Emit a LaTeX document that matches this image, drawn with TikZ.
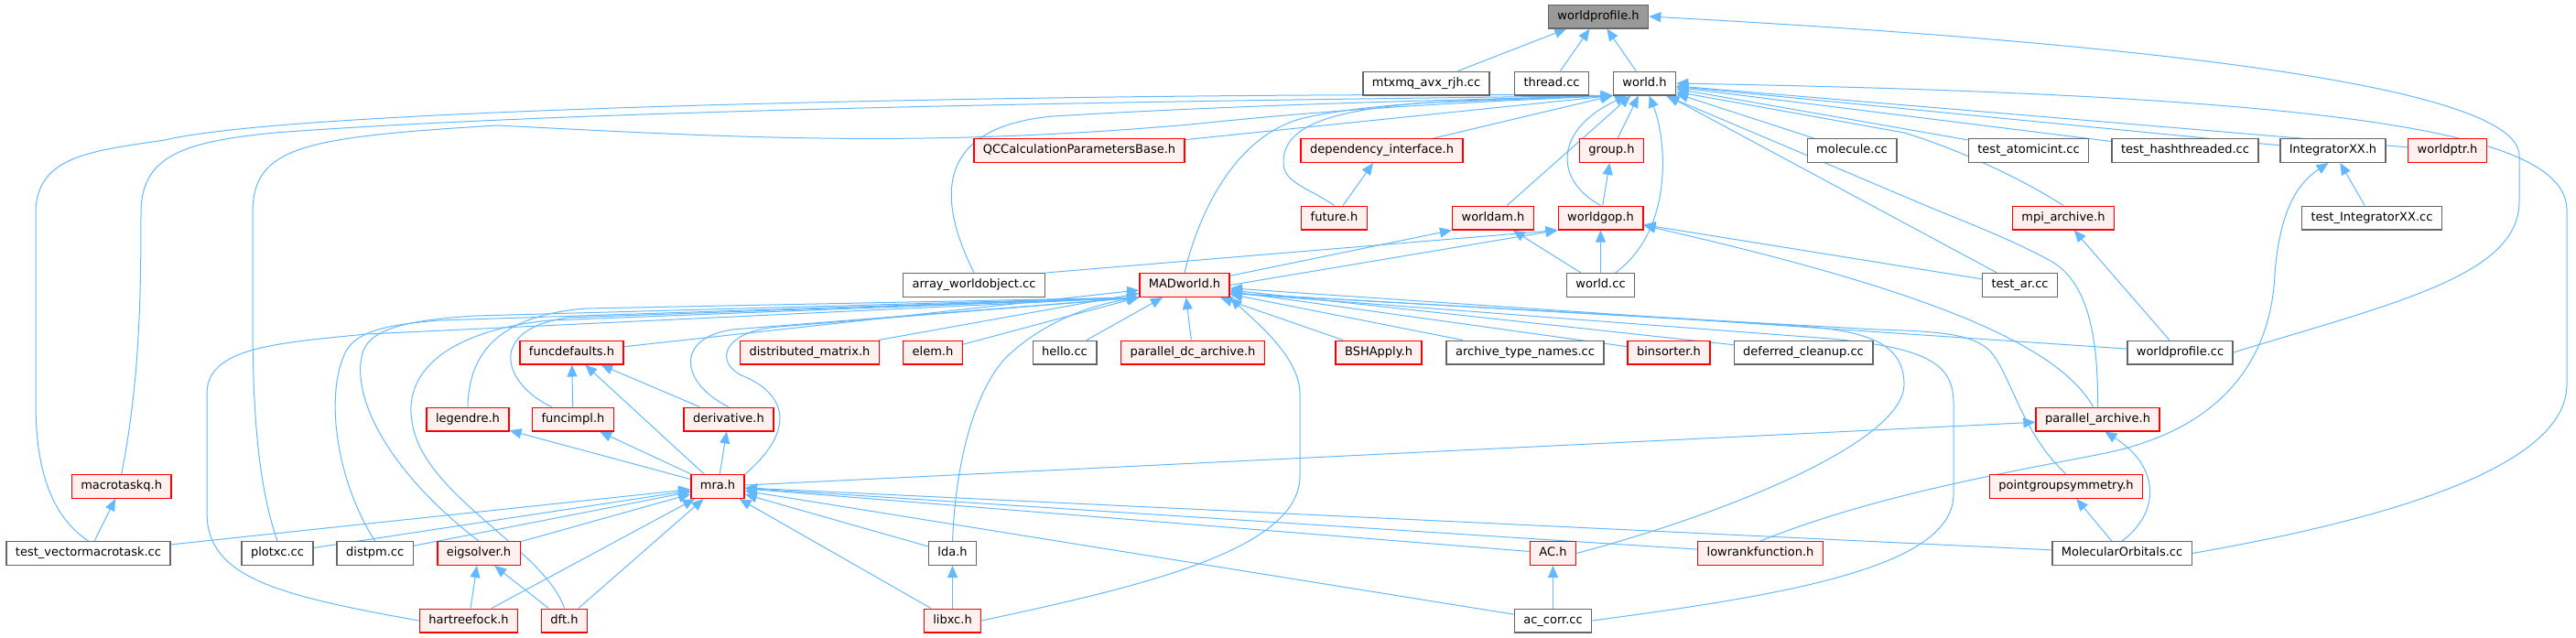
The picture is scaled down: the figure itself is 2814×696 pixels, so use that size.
\documentclass[tikz,border=0pt]{standalone}
\usepackage{fontspec}
\setmainfont{DejaVu Sans}
\usetikzlibrary{arrows.meta}
\definecolor{DGEdge}{HTML}{63B8FF}
\definecolor{DGBorder}{HTML}{666666}
\definecolor{DGRed}{HTML}{FF0000}
\definecolor{DGPink}{HTML}{FFF0F0}
\definecolor{DGGray}{HTML}{999999}
\pgfdeclarelayer{background}
\pgfsetlayers{background,main}

\begin{document}
\begin{tikzpicture}[x=0.5pt,y=-0.5pt,>={Triangle[length=6.5pt,width=5.5pt]},
    file/.style={draw=DGBorder,fill=white,line width=0.7pt,minimum height=12.8pt,inner xsep=5pt,inner ysep=0pt,
      text height=4.9pt,text depth=1.5pt,font=\fontsize{6.5pt}{7pt}\selectfont},
    trunc/.style={file,draw=DGRed,fill=DGPink},
    focus/.style={file,fill=DGGray},
    edge/.style={->,DGEdge,line width=0.5pt}]
  \useasboundingbox (0,0) rectangle (2814,696);

  % rank 0 - 4
  \node[focus] (wprofh) at (1746,18) {worldprofile.h};
  \node[file] (mtxmq) at (1558,91) {mtxmq\_avx\_rjh.cc};
  \node[file] (thread) at (1695,91) {thread.cc};
  \node[file] (worldh) at (1796.5,91) {world.h};
  \node[trunc] (qccalc) at (1179,164.5) {QCCalculationParametersBase.h};
  \node[trunc] (depint) at (1509.5,164.5) {dependency\_interface.h};
  \node[trunc] (group) at (1760.5,164.5) {group.h};
  \node[file] (molecule) at (2023,164.5) {molecule.cc};
  \node[file] (atomicint) at (2216,164.5) {test\_atomicint.cc};
  \node[file] (hashthr) at (2387,164.5) {test\_hashthreaded.cc};
  \node[file] (integxx) at (2548.5,164.5) {IntegratorXX.h};
  \node[trunc] (worldptr) at (2673.5,164.5) {worldptr.h};
  \node[trunc] (future) at (1457.5,238) {future.h};
  \node[trunc] (worldam) at (1631,238) {worldam.h};
  \node[trunc] (worldgop) at (1748.5,238) {worldgop.h};
  \node[trunc] (mpiarch) at (2254,238) {mpi\_archive.h};
  \node[file] (testintxx) at (2591,238) {test\_IntegratorXX.cc};
  \node[file] (arrayobj) at (1064,311.5) {array\_worldobject.cc};
  \node[trunc] (madworld) at (1294,311.5) {MADworld.h};
  \node[file] (worldcc) at (1748.5,311.5) {world.cc};
  \node[file] (testar) at (2206.5,311.5) {test\_ar.cc};

  % rank 5 - 9
  \node[trunc] (funcdef) at (624.5,385) {funcdefaults.h};
  \node[trunc] (distmat) at (884.5,385) {distributed\_matrix.h};
  \node[trunc] (elem) at (1019,385) {elem.h};
  \node[file] (hello) at (1163,385) {hello.cc};
  \node[trunc] (pardc) at (1303,385) {parallel\_dc\_archive.h};
  \node[trunc] (bshapply) at (1506,385) {BSHApply.h};
  \node[file] (archnames) at (1666,385) {archive\_type\_names.cc};
  \node[trunc] (binsorter) at (1823,385) {binsorter.h};
  \node[file] (defclean) at (1970,385) {deferred\_cleanup.cc};
  \node[file] (wprofcc) at (2381.5,385) {worldprofile.cc};
  \node[trunc] (legendre) at (511,458) {legendre.h};
  \node[trunc] (funcimpl) at (626,458) {funcimpl.h};
  \node[trunc] (deriv) at (796,458) {derivative.h};
  \node[trunc] (pararch) at (2291.5,458) {parallel\_archive.h};
  \node[trunc] (macrotaskq) at (132.7,531.5) {macrotaskq.h};
  \node[trunc] (mra) at (784,531.5) {mra.h};
  \node[trunc] (pointgrp) at (2257,531.5) {pointgroupsymmetry.h};
  \node[file] (testvmt) at (96.5,604.5) {test\_vectormacrotask.cc};
  \node[file] (plotxc) at (303,604.5) {plotxc.cc};
  \node[file] (distpm) at (409.7,604.5) {distpm.cc};
  \node[trunc] (eigsolver) at (523,604.5) {eigsolver.h};
  \node[file] (lda) at (1040.5,604.5) {lda.h};
  \node[trunc] (ach) at (1696.5,604.5) {AC.h};
  \node[trunc] (lowrank) at (1923,604.5) {lowrankfunction.h};
  \node[file] (molorb) at (2318,604.5) {MolecularOrbitals.cc};
  \node[trunc] (hartree) at (512,678) {hartreefock.h};
  \node[trunc] (dft) at (616.5,678) {dft.h};
  \node[trunc] (libxc) at (1040.5,678) {libxc.h};
  \node[file] (accorr) at (1696.5,678) {ac\_corr.cc};

  \begin{pgfonlayer}{background}
  % worldprofile.h
  \draw[edge] (mtxmq) -- (wprofh);
  \draw[edge] (thread) -- (wprofh);
  \draw[edge] (worldh) -- (wprofh);
  \draw[edge] (wprofcc.east) .. controls (2620,330) and (2752,300) .. (2752,220) -- (2752,170)
    .. controls (2752,90) and (2300,45) .. (wprofh.east);

  % world.h
  \draw[edge] (qccalc) -- (worldh.south west);
  \draw[edge] (depint) -- (worldh.south west);
  \draw[edge] (group) -- (worldh);
  \draw[edge] (molecule) -- (worldh);
  \draw[edge] (atomicint) -- (worldh);
  \draw[edge] (hashthr) -- (worldh);
  \draw[edge] (integxx) -- (worldh);
  \draw[edge] (worldptr) -- (worldh);
  \draw[edge] (mpiarch.north) .. controls (2200,190) and (2130,160) .. (2080,145) -- (worldh.-15);
  \draw[edge] (testar) -- (worldh);
  \draw[edge] (worldam) -- (worldh);
  \draw[edge] (future.north) .. controls (1430,205) and (1400,200) .. (1402,175)
    .. controls (1404,135) and (1460,120) .. (1560,112) -- (worldh.south west);
  \draw[edge] (worldgop.north) .. controls (1695,195) and (1700,140) .. (worldh.215);
  \draw[edge] (worldcc.40) .. controls (1830,250) and (1820,150) .. (worldh.290);
  \draw[edge] (pararch.north) .. controls (2292,380) and (2285,310) .. (2240,285)
    .. controls (2190,258) and (2140,240) .. (2100,223) -- (worldh.-30);
  \draw[edge] (molorb.east) .. controls (2650,560) and (2804,500) .. (2804,420) -- (2804,230)
    .. controls (2804,150) and (2600,105) .. (worldh.east);
  \draw[edge] (madworld.north) .. controls (1310,230) and (1350,150) .. (1420,130)
    .. controls (1500,110) and (1650,108) .. (worldh.south west);
  \draw[edge] (arrayobj.north) .. controls (1030,230) and (1010,140) .. (1150,127)
    .. controls (1400,112) and (1650,108) .. (worldh.south west);
  \draw[edge] (macrotaskq.north) .. controls (152,420) and (154,330) .. (154,233)
    .. controls (154,170) and (200,155) .. (300,145) .. controls (700,115) and (1500,108) .. (worldh.south west);
  \draw[edge] (testvmt.north) .. controls (50,560) and (39,500) .. (39,440) -- (39,233)
    .. controls (39,170) and (100,165) .. (180,153) .. controls (350,112) and (1400,100) .. (worldh.south west);
  \draw[edge] (plotxc.north) .. controls (278,520) and (276,420) .. (276,340) -- (276,233)
    .. controls (276,160) and (330,150) .. (543,137) .. controls (800,150) and (1000,162) .. (1300,136)
    .. controls (1500,115) and (1650,110) .. (worldh.south west);

  % small headers
  \draw[edge] (future) -- (depint);
  \draw[edge] (worldgop) -- (group);
  \draw[edge] (testintxx) -- (integxx);
  \draw[edge] (lowrank.north) .. controls (2050,540) and (2200,515) .. (2300,495)
    .. controls (2420,470) and (2480,400) .. (2485,300) .. controls (2490,230) and (2510,200) .. (integxx.250);
  \draw[edge] (wprofcc) -- (mpiarch);
  \draw[edge] (worldcc) -- (worldam);
  \draw[edge] (worldcc) -- (worldgop);
  \draw[edge] (madworld) -- (worldam.south west);
  \draw[edge] (madworld.east) -- (worldgop.south west);
  \draw[edge] (arrayobj.north east) -- (worldgop.south west);
  \draw[edge] (testar) -- (worldgop);
  \draw[edge] (pararch.110) .. controls (2250,380) and (2120,320) .. (worldgop.-10);

  % MADworld.h
  \draw[edge] (funcdef) -- (madworld);
  \draw[edge] (distmat) -- (madworld);
  \draw[edge] (elem) -- (madworld);
  \draw[edge] (hello) -- (madworld);
  \draw[edge] (pardc) -- (madworld);
  \draw[edge] (bshapply) -- (madworld);
  \draw[edge] (archnames) -- (madworld);
  \draw[edge] (binsorter) -- (madworld);
  \draw[edge] (defclean) -- (madworld);
  \draw[edge] (wprofcc) -- (madworld);
  \draw[edge] (legendre.north) .. controls (512,390) and (540,345) .. (640,337) -- (madworld.south west);
  \draw[edge] (funcimpl.150) .. controls (550,420) and (530,360) .. (620,347) -- (madworld.south west);
  \draw[edge] (deriv.north) .. controls (745,420) and (735,370) .. (800,360) -- (madworld.south west);
  \draw[edge] (mra.north east) .. controls (870,470) and (860,430) .. (810,410)
    .. controls (780,395) and (790,362) .. (850,357) -- (madworld.south west);
  \draw[edge] (eigsolver.north) .. controls (430,520) and (385,440) .. (395,390)
    .. controls (400,360) and (440,350) .. (520,345) -- (madworld.south west);
  \draw[edge] (distpm.north) .. controls (370,530) and (355,440) .. (375,390)
    .. controls (385,362) and (420,355) .. (480,350) -- (madworld.south west);
  \draw[edge] (hartree.west) .. controls (300,650) and (226,630) .. (226,560) -- (226,430)
    .. controls (226,380) and (300,375) .. (400,365) -- (madworld.south west);
  \draw[edge] (dft.north) .. controls (595,600) and (460,540) .. (450,460)
    .. controls (440,400) and (500,360) .. (600,350) -- (madworld.south west);
  \draw[edge] (lda.north) .. controls (1045,480) and (1075,410) .. (1105,385)
    .. controls (1135,358) and (1180,335) .. (madworld.south west);
  \draw[edge] (libxc.east) .. controls (1250,640) and (1420,600) .. (1420,520) -- (1420,430)
    .. controls (1420,390) and (1370,350) .. (madworld.south east);
  \draw[edge] (ach.east) .. controls (1900,557) and (2080,480) .. (2080,420)
    .. controls (2080,370) and (2030,360) .. (1950,355) -- (madworld.-10);
  \draw[edge] (accorr.east) .. controls (1950,650) and (2134,620) .. (2134,540) -- (2134,440)
    .. controls (2134,395) and (2100,380) .. (2000,370) -- (madworld.-10);
  \draw[edge] (pointgrp.north) .. controls (2205,470) and (2195,400) .. (2170,380)
    .. controls (2150,365) and (2120,362) .. (2050,360) -- (madworld.-10);

  % mra.h
  \draw[edge] (testvmt) -- (mra);
  \draw[edge] (plotxc) -- (mra);
  \draw[edge] (distpm) -- (mra);
  \draw[edge] (eigsolver) -- (mra);
  \draw[edge] (hartree) -- (mra);
  \draw[edge] (dft) -- (mra);
  \draw[edge] (lda) -- (mra);
  \draw[edge] (libxc) -- (mra);
  \draw[edge] (ach) -- (mra);
  \draw[edge] (lowrank) -- (mra);
  \draw[edge] (accorr) -- (mra);
  \draw[edge] (molorb) -- (mra);
  \draw[edge] (mra) -- (funcdef);
  \draw[edge] (mra) -- (funcimpl);
  \draw[edge] (mra) -- (legendre);
  \draw[edge] (mra) -- (deriv);
  \draw[edge] (mra) -- (pararch);
  \draw[edge] (funcimpl) -- (funcdef);
  \draw[edge] (deriv) -- (funcdef);

  % leaves
  \draw[edge] (testvmt) -- (macrotaskq);
  \draw[edge] (hartree) -- (eigsolver);
  \draw[edge] (dft) -- (eigsolver);
  \draw[edge] (libxc) -- (lda);
  \draw[edge] (accorr) -- (ach);
  \draw[edge] (molorb) -- (pointgrp);
  \draw[edge] (molorb.north) .. controls (2360,560) and (2360,510) .. (pararch.-60);
  \end{pgfonlayer}
\end{tikzpicture}
\end{document}
